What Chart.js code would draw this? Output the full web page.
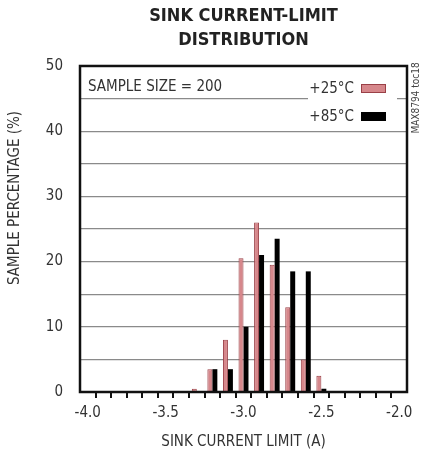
<!DOCTYPE html>
<html>
<head>
<meta charset="utf-8">
<script src="https://cdn.jsdelivr.net/npm/chart.js@4"></script>
<style>
  html, body { margin: 0; padding: 0; background: #fff; }
  canvas { display: block; }
</style>
</head>
<body>
<canvas id="sinkChart" width="421" height="454"></canvas>
<script>
/* Sink current-limit distribution */
const currentBins = ['-4.0', '-3.9', '-3.8', '-3.7', '-3.6', '-3.5', '-3.4', '-3.3', '-3.2', '-3.1', '-3.0',
  '-2.9', '-2.8', '-2.7', '-2.6', '-2.5', '-2.4', '-2.3', '-2.2', '-2.1', '-2.0'];
const pct25C = [0, 0, 0, 0, 0, 0, 0, 0.5, 3.5, 8, 20.5, 26, 19.5, 13, 5, 2.5, 0, 0, 0, 0, 0];
const pct85C = [0, 0, 0, 0, 0, 0, 0, 0, 3.5, 3.5, 10, 21, 23.5, 18.5, 18.5, 0.5, 0, 0, 0, 0, 0];
const seriesNames = ['+25°C', '+85°C'];

const FONT = "'Liberation Sans Narrow', 'DejaVu Sans Condensed', 'Liberation Sans', sans-serif";

const extras = {
  id: 'extras',
  beforeDatasetsDraw(chart) {
    const { ctx } = chart;
    // white patch behind the legend
    ctx.save();
    ctx.fillStyle = '#fff';
    ctx.fillRect(308, 67, 89, 61);
    ctx.restore();
  },
  afterDatasetsDraw(chart) {
    const { ctx, chartArea: a } = chart;
    ctx.save();
    ctx.strokeStyle = '#111';
    ctx.lineWidth = 2.5;
    ctx.strokeRect(a.left, a.top, a.right - a.left, a.bottom - a.top);

    ctx.fillStyle = '#333';
    ctx.font = '15px ' + FONT;
    ctx.textBaseline = 'middle';
    ctx.textAlign = 'left';
    ctx.fillText('SAMPLE SIZE = 200', a.left + 8, 87);

    // legend, swatch right of the text
    chart.data.datasets.forEach((ds, i) => {
      const y = 89 + i * 28;
      ctx.textAlign = 'right';
      ctx.fillStyle = '#333';
      ctx.fillText(ds.label, 354, y);
      ctx.fillStyle = ds.backgroundColor;
      ctx.fillRect(361, y - 5, 25, 9);
      ctx.strokeStyle = ds.borderColor;
      ctx.lineWidth = 1;
      ctx.strokeRect(361.5, y - 4.5, 24, 8);
    });

    // y axis title
    ctx.save();
    ctx.translate(15, 198);
    ctx.rotate(-Math.PI / 2);
    ctx.textAlign = 'center';
    ctx.fillStyle = '#333';
    ctx.fillText('SAMPLE PERCENTAGE (%)', 0, 0);
    ctx.restore();

    // figure tag
    ctx.save();
    ctx.translate(416, 98);
    ctx.rotate(-Math.PI / 2);
    ctx.textAlign = 'center';
    ctx.font = '10px ' + FONT;
    ctx.fillStyle = '#444';
    ctx.fillText('MAX8794 toc18', 0, 0);
    ctx.restore();
    ctx.restore();
  }
};

new Chart(document.getElementById('sinkChart'), {
  type: 'bar',
  data: {
    labels: currentBins,
    datasets: [
      { label: seriesNames[0], data: pct25C, backgroundColor: '#d6878b', borderColor: '#9a4047', borderWidth: 1, borderSkipped: 'bottom' },
      { label: seriesNames[1], data: pct85C, backgroundColor: '#000', borderColor: '#000', borderWidth: 0 }
    ]
  },
  plugins: [extras],
  options: {
    responsive: false,
    animation: false,
    layout: { padding: { left: 0, right: 14, top: 0, bottom: 0 } },
    datasets: { bar: { categoryPercentage: 0.64, barPercentage: 1.0 } },
    plugins: {
      legend: { display: false },
      tooltip: { enabled: false },
      title: {
        display: true,
        fullSize: false,
        text: ['SINK CURRENT-LIMIT', 'DISTRIBUTION'],
        color: '#222',
        font: { family: FONT, size: 18, weight: 'bold', lineHeight: 1.333 },
        padding: { top: 4, bottom: 14 }
      }
    },
    scales: {
      x: {
        afterFit: s => { s.height = 62; },
        border: { display: false },
        grid: {
          offset: true,
          drawOnChartArea: false,
          drawTicks: true,
          tickLength: 6,
          lineWidth: 2,
          color: c => (c.index >= 1 && c.index <= 20) ? '#111' : 'rgba(0,0,0,0)'
        },
        ticks: {
          autoSkip: false,
          maxRotation: 0,
          padding: 6,
          color: '#333',
          font: { family: FONT, size: 15 },
          callback: (v, i) => i % 5 === 0 ? currentBins[i] : ''
        },
        title: {
          display: true,
          text: 'SINK CURRENT LIMIT (A)',
          color: '#333',
          font: { family: FONT, size: 15 },
          padding: { top: 0, bottom: 3 }
        }
      },
      y: {
        min: 0,
        max: 50,
        afterFit: s => { s.width = 80; },
        border: { display: false },
        grid: { drawTicks: false, color: '#8a8a8a', lineWidth: 1.3 },
        ticks: {
          stepSize: 5,
          padding: 17,
          color: '#333',
          font: { family: FONT, size: 15 },
          callback: v => v % 10 === 0 ? v : ''
        }
      }
    }
  }
});
</script>
</body>
</html>
